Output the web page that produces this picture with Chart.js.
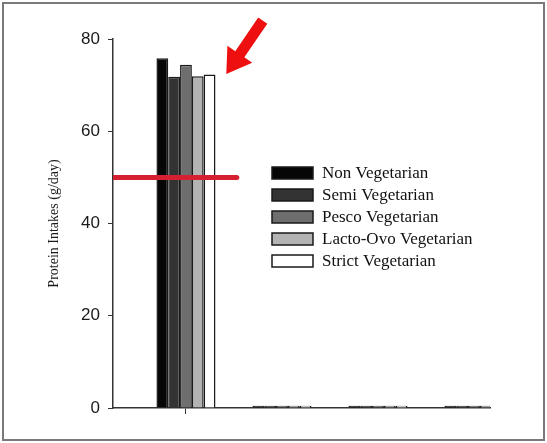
<!DOCTYPE html>
<html>
<head>
<meta charset="utf-8">
<script src="https://cdn.jsdelivr.net/npm/chart.js@4.4.1/dist/chart.umd.min.js"></script>
<style>
  html, body { margin: 0; padding: 0; background: #fff; }
  #wrap { width: 547px; height: 443px; position: relative; }
</style>
</head>
<body>
<div id="wrap"><canvas id="grafProtein"></canvas></div>
<script>
// data
const groups = ['', '', '', '']
const groupPos = [1, 2, 3, 4]
const seriesNames = ['Non Vegetarian', 'Semi Vegetarian', 'Pesco Vegetarian', 'Lacto-Ovo Vegetarian', 'Strict Vegetarian']
const nonVeg = [75.8, 0.5, 0.5, 0.5]
const semiVeg = [71.8, 0.5, 0.5, 0.5]
const pescoVeg = [74.4, 0.5, 0.5, 0.5]
const lactoOvoVeg = [71.9, 0.5, 0.5, 0.5]
const strictVeg = [72.3, 0.5, 0.5, 0.5]
const yTicks = [0, 20, 40, 60, 80]
const refLine = 50

const seriesColors = ['#060606', '#333333', '#6e6e6e', '#b3b3b3', '#ffffff']
const xMin = 0.24
const xMax = 4.167
const refLineEnd = 1.53
const arrowTail = { x: 1.8, y: 84 }
const arrowTip = { x: 1.42, y: 72.4 }

const ctx = document.getElementById('grafProtein')
const allSeries = [nonVeg, semiVeg, pescoVeg, lactoOvoVeg, strictVeg]

const barSets = allSeries.map((vals, i) => ({
  type: 'bar',
  label: seriesNames[i],
  data: vals.map((v, j) => ({ x: groupPos[j], y: v })),
  backgroundColor: seriesColors[i],
  borderColor: '#1a1a1a',
  borderWidth: 1.5,
  borderSkipped: 'bottom',
  categoryPercentage: 0.615,
  barPercentage: 1.0,
  order: 2
}))

const frameAndNotes = {
  id: 'frameAndNotes',
  beforeDraw(chart) {
    const c = chart.ctx
    c.save()
    c.fillStyle = '#ffffff'
    c.fillRect(0, 0, chart.width, chart.height)
    c.restore()
  },
  afterDraw(chart) {
    const c = chart.ctx
    const area = chart.chartArea
    const xs = chart.scales.x
    const ys = chart.scales.y

    // legend
    c.save()
    const lx = area.left + 159
    let ly = area.top + 134
    c.font = '17px "Liberation Serif", "Times New Roman", serif'
    c.textBaseline = 'middle'
    seriesNames.forEach((name, i) => {
      c.fillStyle = seriesColors[i]
      c.fillRect(lx, ly - 6, 41, 12)
      c.strokeStyle = '#1a1a1a'
      c.lineWidth = 1.5
      c.strokeRect(lx, ly - 6, 41, 12)
      c.fillStyle = '#111'
      c.fillText(name, lx + 50, ly + 1)
      ly += 22
    })
    c.restore()

    // red arrow
    const tx = xs.getPixelForValue(arrowTail.x), ty = ys.getPixelForValue(arrowTail.y)
    const px = xs.getPixelForValue(arrowTip.x), py = ys.getPixelForValue(arrowTip.y)
    const dx = px - tx, dy = py - ty
    const len = Math.sqrt(dx * dx + dy * dy)
    const ux = dx / len, uy = dy / len
    const nx = -uy, ny = ux
    const sw = 11, hw = 30, hl = 24
    const bx = px - ux * hl, by = py - uy * hl
    c.save()
    c.fillStyle = '#ee1010'
    c.beginPath()
    c.moveTo(tx + nx * sw / 2, ty + ny * sw / 2)
    c.lineTo(bx + nx * sw / 2, by + ny * sw / 2)
    c.lineTo(bx + nx * hw / 2, by + ny * hw / 2)
    c.lineTo(px, py)
    c.lineTo(bx - nx * hw / 2, by - ny * hw / 2)
    c.lineTo(bx - nx * sw / 2, by - ny * sw / 2)
    c.lineTo(tx - nx * sw / 2, ty - ny * sw / 2)
    c.closePath()
    c.fill()
    c.restore()

    // outer frame
    c.save()
    c.strokeStyle = '#7a7a7a'
    c.lineWidth = 2
    c.strokeRect(3, 3, chart.width - 6, chart.height - 6)
    c.restore()
  }
}

new Chart(ctx, {
  data: {
    datasets: [
      {
        type: 'line',
        label: 'ref',
        data: [{ x: xMin, y: refLine }, { x: refLineEnd, y: refLine }],
        borderColor: '#d42030',
        borderWidth: 5,
        borderCapStyle: 'round',
        pointRadius: 0,
        order: 0
      },
      ...barSets
    ]
  },
  options: {
    responsive: true,
    maintainAspectRatio: false,
    animation: false,
    layout: {
      padding: { left: 40, top: 39, right: 57, bottom: 0 }
    },
    plugins: {
      legend: { display: false },
      tooltip: { enabled: false }
    },
    scales: {
      x: {
        type: 'linear',
        min: xMin,
        max: xMax,
        offset: false,
        bounds: 'data',
        afterBuildTicks: (scale) => { scale.ticks = [{ value: groupPos[0] }] },
        afterFit: (scale) => { scale.height = 35 },
        ticks: {
          callback: (v) => groups[groupPos.indexOf(v)] || '',
          font: { size: 1 }
        },
        grid: {
          offset: false,
          drawOnChartArea: false,
          tickLength: 6,
          color: '#333'
        },
        border: { color: '#333', width: 1.5 }
      },
      y: {
        min: 0,
        max: 80,
        afterBuildTicks: (scale) => { scale.ticks = yTicks.map(v => ({ value: v })) },
        afterFit: (scale) => { scale.width = 73 },
        ticks: {
          color: '#1a1a1a',
          padding: 8,
          font: { family: '"Liberation Sans", Arial, sans-serif', size: 17 }
        },
        grid: {
          drawOnChartArea: false,
          tickLength: 5,
          color: '#333'
        },
        border: { color: '#333', width: 1.5 },
        title: {
          display: true,
          text: 'Protein Intakes (g/day)',
          color: '#1a1a1a',
          padding: { top: 6, bottom: 0 },
          font: { family: '"Liberation Serif", "Times New Roman", serif', size: 14 }
        }
      }
    }
  },
  plugins: [frameAndNotes]
});
</script>
</body>
</html>
